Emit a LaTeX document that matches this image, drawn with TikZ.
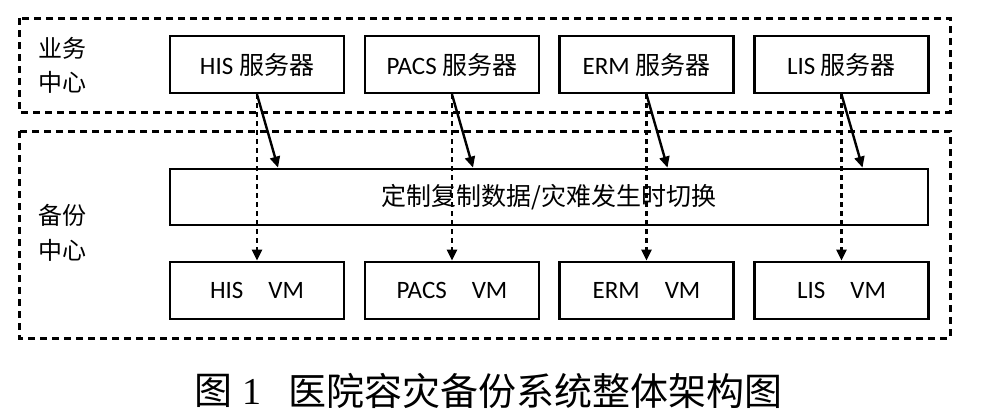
\documentclass[tikz,border=0pt]{standalone}
\usepackage{fontspec}
\setmainfont{Carlito}
\newfontfamily\cjk{Noto Sans CJK SC}
\newfontfamily\numfont{Liberation Serif}
\usetikzlibrary{arrows.meta}
\begin{document}
\begin{tikzpicture}[x=1pt,y=-1pt,
  region/.style={draw,line width=3pt,dash pattern=on 7pt off 5pt},
  box/.style={draw,line width=2.8pt,minimum width=174pt,minimum height=57pt,inner sep=0pt,font=\fontsize{25}{30}\selectfont},
  lbl/.style={inner sep=0pt,font=\fontsize{24}{28}\selectfont\cjk},
  solidarr/.style={line width=2.4pt,-{Triangle[length=11pt,width=10pt]}},
  dasharr/.style={line width=2.4pt,dash pattern=on 5pt off 4pt,-{Triangle[length=11pt,width=10pt]}}]
\useasboundingbox (0,0) rectangle (985,416);
% regions
\draw[region] (19,18) rectangle (950,112);
\draw[region] (19,131) rectangle (950,338);
\node[lbl] (l1) at (62,48) {业务};
\node[lbl] (l2) at (62,82) {中心};
\node[lbl] (l3) at (62,215) {备份};
\node[lbl] (l4) at (62,250) {中心};
% servers
\node[box] (his)  at (257,64.5) {HIS {\cjk 服务器}};
\node[box] (pacs) at (452,64.5) {PACS {\cjk 服务器}};
\node[box] (erm)  at (646.5,64.5) {ERM {\cjk 服务器}};
\node[box] (lis)  at (841.5,64.5) {LIS {\cjk 服务器}};
% middle
\node[box,minimum width=758pt,minimum height=56pt] (mid) at (549,197) {\cjk 定制复制数据/灾难发生时切换};
% VMs
\node[box] (hisvm)  at (257,290.5) {HIS\hspace{25pt}VM};
\node[box] (pacsvm) at (452,290.5) {PACS\hspace{25pt}VM};
\node[box] (ermvm)  at (646.5,290.5) {ERM\hspace{25pt}VM};
\node[box] (lisvm)  at (841.5,290.5) {LIS\hspace{25pt}VM};
% arrows
\foreach \s in {his,pacs,erm,lis}{
  \draw[solidarr] (\s.south) -- ([xshift=21pt]\s.south |- mid.north);
  \draw[dasharr] (\s.south) -- (\s vm.north);
}
% caption
\node[inner sep=0pt,anchor=west,font=\fontsize{38}{44}\selectfont] (capnum) at (194,391) {{\cjk 图}\hspace{10pt}{\numfont 1}};
\node[inner sep=0pt,font=\fontsize{38}{44}\selectfont\cjk] (cap) at (535,391) {医院容灾备份系统整体架构图};
\end{tikzpicture}
\end{document}
